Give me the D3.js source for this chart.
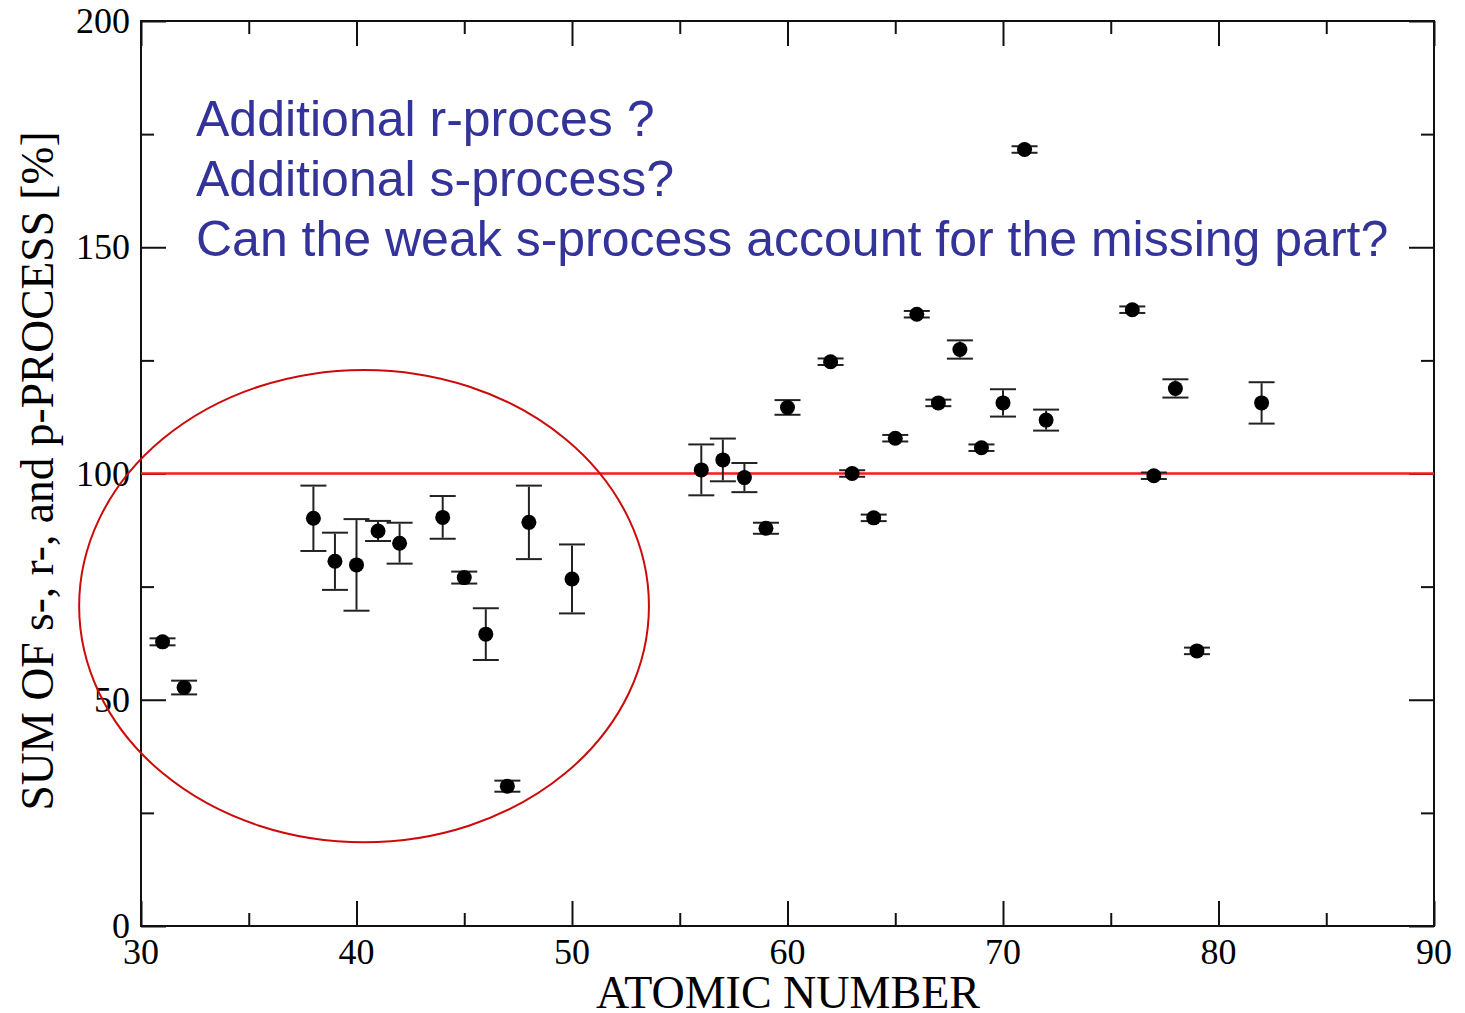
<!DOCTYPE html>
<html>
<head>
<meta charset="utf-8">
<script src="https://cdn.jsdelivr.net/npm/d3@7"></script>
<style>
  body { margin: 0; background: #fff; }
</style>
</head>
<body>
<div id="chart"></div>
<script>
// atomic numbers, summed s+r+p contribution [%], and symmetric error
var elements = [31, 32, 38, 39, 40, 41, 42, 44, 45, 46, 47, 48, 50,
                56, 57, 58, 59, 60, 62, 63, 64, 65, 66, 67, 68, 69, 70, 71, 72,
                76, 77, 78, 79, 82];
var sums = [62.8, 52.7, 90.1, 80.6, 79.8, 87.3, 84.6, 90.3, 77.0, 64.5, 30.9, 89.2, 76.7,
            100.8, 103.0, 99.1, 87.9, 114.6, 124.7, 100.0, 90.2, 107.8, 135.2, 115.6, 127.4, 105.7, 115.6, 171.6, 111.8,
            136.2, 99.5, 118.8, 60.8, 115.6];
var errors = [0.55, 1.3, 7.0, 6.1, 9.9, 2.0, 4.3, 4.5, 1.1, 5.5, 1.0, 7.9, 7.4,
              5.4, 4.5, 3.0, 1.0, 1.4, 0.5, 0.5, 0.5, 0.5, 0.5, 0.5, 1.8, 0.5, 2.8, 0.5, 2.1,
              0.5, 0.5, 1.8, 0.5, 4.35];

var xTicks = [30, 40, 50, 60, 70, 80, 90];
var yTicks = [0, 50, 100, 150, 200];
var questions = ["Additional r-proces ?",
                 "Additional s-process?",
                 "Can the weak s-process account for the missing part?"];

var margin = {top: 21, right: 31, bottom: 87, left: 141},
    width = 1465 - margin.left - margin.right,
    height = 1013 - margin.top - margin.bottom;

var svg = d3.select("#chart")
  .append("svg")
    .attr("width", 1465)
    .attr("height", 1013)
  .append("g")
    .attr("transform", "translate(" + margin.left + "," + margin.top + ")");

var x = d3.scaleLinear().domain([30, 90]).range([0, width]);
var y = d3.scaleLinear().domain([0, 200]).range([height, 0]);

var serif = "'Liberation Serif', 'Times New Roman', serif";

// inward ticks on all four sides: major and minor
function tickAxis(axisFn, scale, ticks, size, transform) {
  var g = svg.append("g")
    .attr("transform", transform)
    .call(axisFn(scale).tickValues(ticks).tickSize(-size).tickFormat(""));
  g.select(".domain").remove();
  g.selectAll("line").attr("stroke", "#111").attr("stroke-width", 2);
  return g;
}
var xMinor = d3.range(35, 90, 10), yMinor = d3.range(25, 200, 50);
tickAxis(d3.axisBottom, x, xTicks, 25, "translate(0," + height + ")");
tickAxis(d3.axisBottom, x, xMinor, 13, "translate(0," + height + ")");
tickAxis(d3.axisTop, x, xTicks, 25, "translate(0,0)");
tickAxis(d3.axisTop, x, xMinor, 13, "translate(0,0)");
tickAxis(d3.axisLeft, y, yTicks, 25, "translate(0,0)");
tickAxis(d3.axisLeft, y, yMinor, 13, "translate(0,0)");
tickAxis(d3.axisRight, y, yTicks, 25, "translate(" + width + ",0)");
tickAxis(d3.axisRight, y, yMinor, 13, "translate(" + width + ",0)");

// tick labels
svg.append("g").selectAll("text")
  .data(xTicks).enter().append("text")
    .attr("x", function(d) { return x(d); })
    .attr("y", height + 38)
    .attr("text-anchor", "middle")
    .style("font-family", serif).style("font-size", "36px")
    .text(function(d) { return d; });
svg.append("g").selectAll("text")
  .data(yTicks).enter().append("text")
    .attr("x", -11)
    .attr("y", function(d) { return y(d) + 12; })
    .attr("text-anchor", "end")
    .style("font-family", serif).style("font-size", "36px")
    .text(function(d) { return d; });

// frame
svg.append("rect")
  .attr("width", width).attr("height", height)
  .attr("fill", "none").attr("stroke", "#111").attr("stroke-width", 2);

// axis titles
svg.append("text")
  .attr("x", x(50) + 216).attr("y", height + 82)
  .attr("text-anchor", "middle")
  .style("font-family", serif).style("font-size", "46px")
  .text("ATOMIC NUMBER");
svg.append("text")
  .attr("transform", "translate(" + (53 - margin.left) + "," + (471 - margin.top) + ") rotate(-90)")
  .attr("text-anchor", "middle")
  .style("font-family", serif).style("font-size", "45.5px")
  .text("SUM OF s-, r-, and p-PROCESS [%]");

// reference line at 100%
svg.append("line")
  .attr("x1", 0).attr("x2", width)
  .attr("y1", y(100)).attr("y2", y(100))
  .attr("stroke", "#ff1a1a").attr("stroke-width", 2.5);

// ellipse around the light elements
svg.append("ellipse")
  .attr("cx", x(40.35)).attr("cy", y(70.7))
  .attr("rx", x(30 + 13.22) - x(30)).attr("ry", y(0) - y(52.2))
  .attr("fill", "none").attr("stroke", "#cc0a0a").attr("stroke-width", 2);

// error bars
var pts = elements.map(function(z, i) { return {z: z, v: sums[i], e: errors[i]}; });
var bars = svg.append("g").selectAll("g").data(pts).enter().append("g")
  .attr("stroke", "#222").attr("stroke-width", 2);
bars.append("line")
  .attr("x1", function(d) { return x(d.z); }).attr("x2", function(d) { return x(d.z); })
  .attr("y1", function(d) { return y(d.v + d.e); }).attr("y2", function(d) { return y(d.v - d.e); });
bars.append("line")
  .attr("x1", function(d) { return x(d.z) - 13; }).attr("x2", function(d) { return x(d.z) + 13; })
  .attr("y1", function(d) { return y(d.v + d.e) - 1; }).attr("y2", function(d) { return y(d.v + d.e) - 1; });
bars.append("line")
  .attr("x1", function(d) { return x(d.z) - 13; }).attr("x2", function(d) { return x(d.z) + 13; })
  .attr("y1", function(d) { return y(d.v - d.e) + 1; }).attr("y2", function(d) { return y(d.v - d.e) + 1; });

// points
svg.append("g").selectAll("circle").data(pts).enter().append("circle")
  .attr("cx", function(d) { return x(d.z); })
  .attr("cy", function(d) { return y(d.v); })
  .attr("r", 7.5)
  .attr("fill", "#000");

// annotation text
svg.append("g").selectAll("text")
  .data(questions).enter().append("text")
    .attr("x", 196 - margin.left)
    .attr("y", function(d, i) { return 136 - margin.top + i * 60; })
    .style("font-family", "'Liberation Sans', Arial, sans-serif")
    .style("font-size", "50px")
    .attr("fill", "#333399")
    .text(function(d) { return d; });
</script>
</body>
</html>
